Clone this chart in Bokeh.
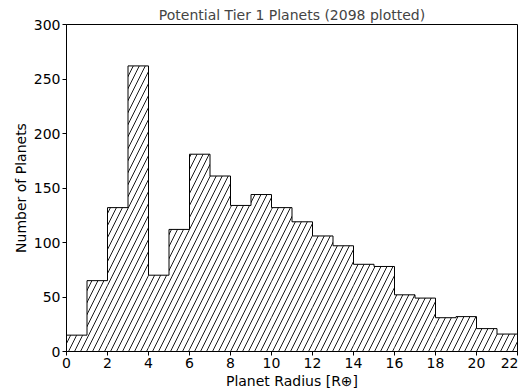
import numpy as np
from bokeh.plotting import figure
from bokeh.models import Range1d, FixedTicker
from bokeh.embed import file_html
from bokeh.resources import INLINE

# ---- data ----
bin_edges = list(range(0, 23))
counts = [15, 65, 132, 262, 70, 112, 181, 161, 134, 144, 132,
          119, 106, 97, 80, 78, 52, 49, 31, 32, 21, 16]
x_ticks = list(range(0, 23, 2))
y_ticks = list(range(0, 301, 50))
title_text = "Potential Tier 1 Planets (2098 plotted)"
x_label = "Planet Radius [R\u2295]"
y_label = "Number of Planets"

FONT = "DejaVu Sans"
FS = "14px"

p = figure(width=518, height=391, output_backend="svg", toolbar_location=None,
           x_range=Range1d(0, 22), y_range=Range1d(0, 300),
           title=title_text,
           min_border_left=66, min_border_right=1,
           min_border_top=24, min_border_bottom=40)
p.grid.visible = False
p.background_fill_color = "white"
p.border_fill_color = "white"
p.outline_line_color = "black"
p.outline_line_width = 1

p.title.text_font = FONT
p.title.text_font_size = FS
p.title.text_font_style = "normal"
p.title.align = "center"
p.title.standoff = 3
p.title.offset = 0

# hatched bars (no fill, no edges)
p.quad(left=bin_edges[:-1], right=bin_edges[1:], bottom=0, top=counts,
       fill_alpha=0, line_alpha=0,
       hatch_pattern="/", hatch_scale=12, hatch_color="black", hatch_weight=0.9)

# step outline
xs = np.repeat(np.array(bin_edges), 2)
ys = np.concatenate([[0], np.repeat(np.array(counts), 2), [0]])
p.line(xs, ys, line_color="black", line_width=1)

for ax in (p.xaxis[0], p.yaxis[0]):
    ax.major_tick_in = 0
    ax.major_tick_out = 4
    ax.minor_tick_in = 0
    ax.minor_tick_out = 0
    ax.axis_line_color = "black"
    ax.major_tick_line_color = "black"
    ax.major_label_text_font = FONT
    ax.major_label_text_font_size = FS
    ax.major_label_text_color = "black"
    ax.axis_label_text_font = FONT
    ax.axis_label_text_font_size = FS
    ax.axis_label_text_font_style = "normal"
    ax.axis_label_text_color = "black"
    ax.major_label_standoff = 2
    ax.axis_label_standoff = 2

p.xaxis[0].ticker = FixedTicker(ticks=x_ticks)
p.yaxis[0].ticker = FixedTicker(ticks=y_ticks)
p.xaxis[0].axis_label = x_label
p.yaxis[0].axis_label = y_label

open("out.html", "w").write(file_html(p, INLINE))
